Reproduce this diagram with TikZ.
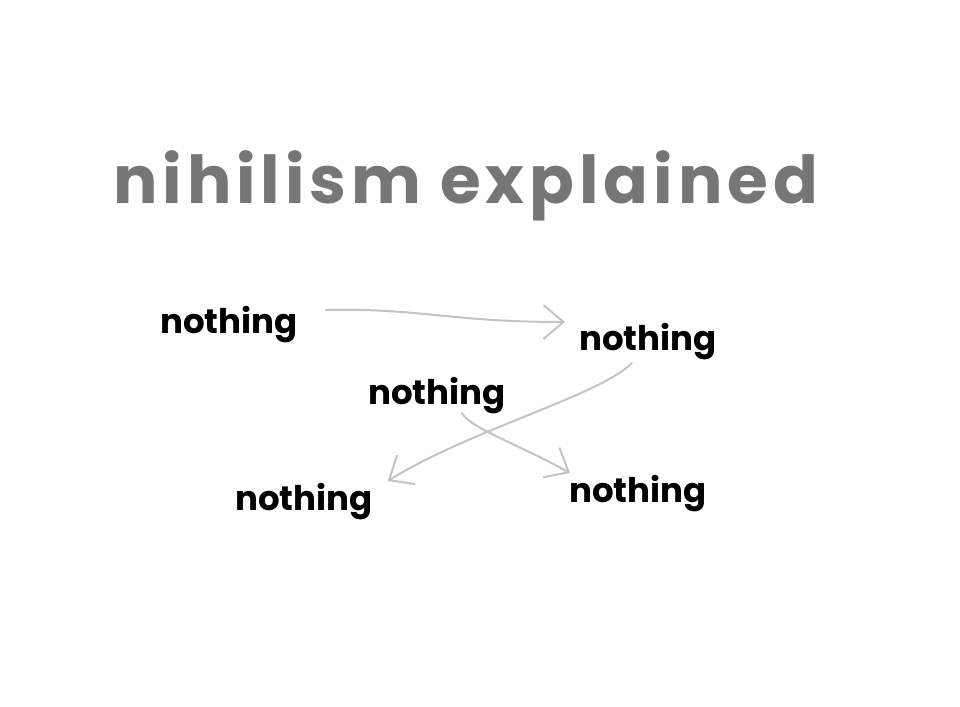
\documentclass[tikz,border=0pt]{standalone}
\usepackage{fontspec}
\setmainfont{Poppins}
\newfontfamily\titlefont{Poppins}[LetterSpace=7.5]
\usetikzlibrary{positioning,calc,arrows.meta}
\definecolor{TitleGray}{RGB}{118,118,118}
\definecolor{PenGray}{RGB}{196,196,196}
\tikzset{>={Straight Barb[length=20pt,width=34pt,line width=2pt]}}
\tikzset{titlenode/.style={anchor=base west,inner sep=0pt,TitleGray,font=\titlefont\fontsize{66}{70}\selectfont\bfseries}}
\tikzset{nothingnode/.style={anchor=base west,inner sep=0pt,font=\fontsize{34}{40}\selectfont\bfseries}}
\tikzset{pen/.style={PenGray,line width=2pt,line cap=round,->}}

\begin{document}
\begin{tikzpicture}[x=1pt,y=-1pt]
        \useasboundingbox[fill=white] (0,0) rectangle (960,706);
        \node[titlenode](title) at (113,203) {nihilism explained};
        \node[nothingnode](n1) at (160,333) {nothing};
        \node[nothingnode](n2) at (579,350) {nothing};
        \node[nothingnode](n3) at (368,404) {nothing};
        \node[nothingnode](n4) at (235,510) {nothing};
        \node[nothingnode](n5) at (569,502) {nothing};
        % hand drawn arrows
        \draw[pen] ($(n1.base east)+(28,-23)$) .. controls +(95,-2) and +(-115,0) .. ($(n2.base west)+(-14,-28)$);
        \draw[pen] ($(n2.base)+(-16,13)$) .. controls +(-31,32) and +(82,-51) .. ($(n4.base east)+(15,-29)$);
        \draw[pen] ($(n3.base)+(25,9)$) .. controls +(8,15) and +(-50,-28) .. ($(n5.base west)+(1,-29)$);
\end{tikzpicture}
\end{document}
